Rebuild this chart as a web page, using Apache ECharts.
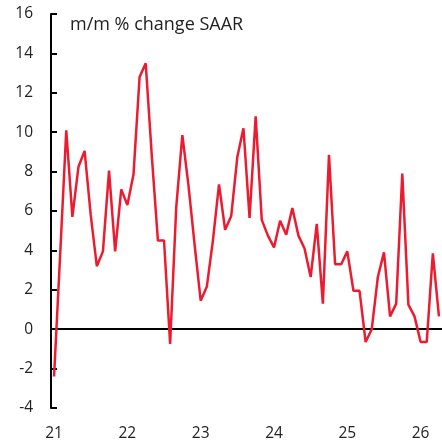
<!DOCTYPE html>
<html>
<head>
<meta charset="utf-8">
<script src="https://cdn.jsdelivr.net/npm/echarts@6/dist/echarts.min.js"></script>
<style>
  html, body { margin: 0; padding: 0; background: #fff; }
  #chart { width: 442px; height: 445px; }
</style>
</head>
<body>
<div id="chart"></div>
<script>
  // monthly, Jan 2021 .. Apr 2026
  var years = ['21', '22', '23', '24', '25', '26'];
  var months = [];
  years.forEach(function (y) {
    for (var m = 1; m <= 12; m++) months.push(y + '-' + (m < 10 ? '0' + m : m));
  });
  months = months.slice(0, 64);

  var values = [
    -2.4, 3.8, 10.1, 5.7, 8.25, 9.05, 5.8, 3.2, 3.95, 8.05, 3.95, 7.1,
    6.3, 7.85, 12.8, 13.5, 8.8, 4.5, 4.5, -0.75, 6.2, 9.85, 7.3, 4.3,
    1.45, 2.15, 4.5, 7.35, 5.05, 5.75, 8.75, 10.2, 5.65, 10.8, 5.55, 4.75,
    4.15, 5.5, 4.8, 6.15, 4.75, 4.1, 2.65, 5.35, 1.3, 8.85, 3.3, 3.3,
    3.95, 1.95, 1.95, -0.65, 0.0, 2.65, 3.9, 0.65, 1.3, 7.9, 1.25, 0.65,
    -0.65, -0.65, 3.85, 0.65
  ];

  var yTicks = { min: -4, max: 16, interval: 2 };

  var chart = echarts.init(document.getElementById('chart'), null, { renderer: 'canvas' });

  chart.setOption({
    animation: false,
    textStyle: { fontFamily: 'Open Sans' },
    title: {
      text: 'm/m % change SAAR',
      left: 65,
      top: 11,
      textStyle: { fontSize: 18, fontWeight: 'normal', color: '#222', fontFamily: 'Open Sans' }
    },
    grid: { left: 51, top: 14, width: 394, height: 394 },
    xAxis: [
      {
        // bottom labels only
        type: 'category',
        data: months,
        position: 'bottom',
        boundaryGap: true,
        axisLine: { show: false, onZero: false },
        axisTick: { show: false },
        axisLabel: {
          interval: 11,
          margin: 18,
          fontSize: 15.5,
          color: '#222',
          formatter: function (v) { return v.slice(0, 2); }
        }
      },
      {
        // zero line with year ticks
        type: 'category',
        data: months,
        position: 'top',
        boundaryGap: true,
        axisLine: { onZero: true, lineStyle: { color: '#000', width: 2 } },
        axisTick: { interval: 11, inside: true, length: 5, lineStyle: { color: '#000', width: 2 } },
        axisLabel: { show: false }
      }
    ],
    yAxis: {
      type: 'value',
      min: yTicks.min,
      max: yTicks.max,
      interval: yTicks.interval,
      axisLine: { show: true, lineStyle: { color: '#000', width: 2 } },
      axisTick: { show: true, inside: true, length: 6, lineStyle: { color: '#000', width: 2 } },
      splitLine: { show: false },
      axisLabel: { margin: 18, fontSize: 15.5, color: '#222' }
    },
    series: [{
      type: 'line',
      data: values,
      xAxisIndex: 0,
      showSymbol: false,
      lineStyle: { color: '#ed1b2f', width: 2.5 },
      itemStyle: { color: '#ed1b2f' }
    }]
  });
</script>
</body>
</html>
